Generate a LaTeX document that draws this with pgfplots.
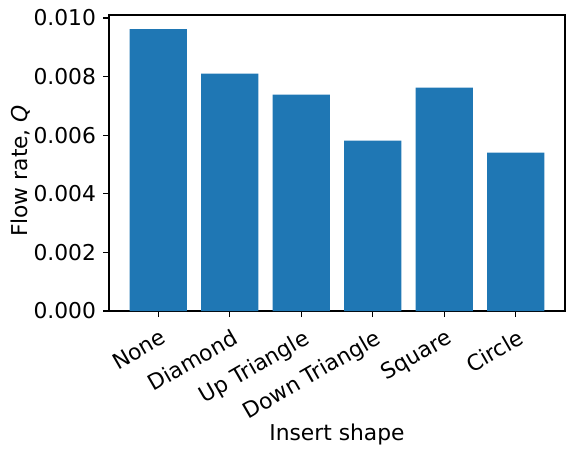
\documentclass[border=0pt]{standalone}
\usepackage{fontspec}
\setmainfont{DejaVu Sans}
\usepackage{pgfplots}
\pgfplotsset{compat=1.18}
\definecolor{mplblue}{HTML}{1F77B4}

\begin{document}
\begin{tikzpicture}
\begin{axis}[
    name=ax,
    scale only axis,
    width=228pt,
    height=148pt,
    xmin=-0.69, xmax=5.69,
    ymin=0, ymax=0.0101,
    xtick=data,
    xticklabels={None, Diamond, Up Triangle, Down Triangle, Square, Circle},
    ytick={0,0.002,0.004,0.006,0.008,0.010},
    scaled y ticks=false,
    yticklabel style={/pgf/number format/.cd, fixed, fixed zerofill, precision=3},
    /pgf/number format/assume math mode=true,
    tick align=outside,
    tick pos=left,
    major tick length=3pt,
    axis line style={line width=0.6pt},
    every tick/.style={line width=0.6pt, black},
    tick label style={font=\fontsize{10.9}{13}\selectfont},
    x tick label style={xshift=1pt, yshift=-4pt, rotate=30, anchor=north east, inner sep=1pt},
    label style={font=\fontsize{10.9}{13}\selectfont},
    xlabel={Insert shape},
    xlabel style={at={(axis description cs:0.5,-0.436)}, anchor=base},
    ylabel={Flow rate, \textit{Q}},
    ylabel style={at={(axis description cs:-0.178,0.473)}, anchor=base},
    ybar,
    bar width=0.8,
]
\addplot[fill=mplblue, draw=none] coordinates {
    (0,0.00962) (1,0.00810) (2,0.00738) (3,0.00581) (4,0.00762) (5,0.00540)
};
\end{axis}
\pgfresetboundingbox
\useasboundingbox ([xshift=-54.5pt,yshift=-72pt]ax.south west) rectangle ([xshift=8pt,yshift=7.5pt]ax.north east);
\end{tikzpicture}
\end{document}
